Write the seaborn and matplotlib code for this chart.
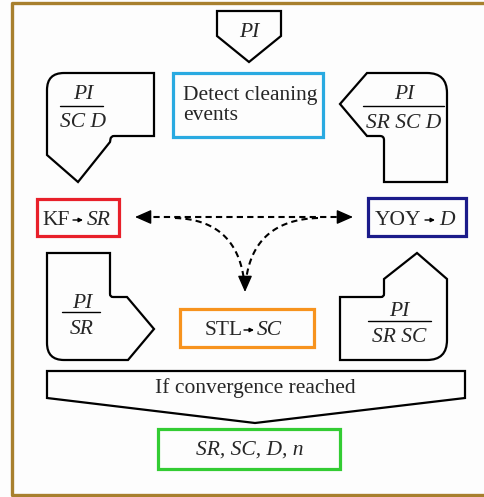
import numpy as np
import matplotlib
matplotlib.use("Agg")
import matplotlib.pyplot as plt
import seaborn as sns
from matplotlib.path import Path
from matplotlib.patches import PathPatch, Rectangle

sns.set_theme(style="white")
plt.rcParams['font.family'] = ['Liberation Serif', 'DejaVu Serif']

# node texts
box_names = ["detect", "kf", "yoy", "stl", "result"]
box_colors = ["#29AAE1", "#E8202A", "#1B1B8A", "#F7931E", "#33CC33"]
frac_tops = ["PI", "PI", "PI", "PI"]
frac_bottoms = ["SC D", "SR SC D", "SR", "SR SC"]
top_label = "PI"
detect_lines = ["Detect cleaning", "events"]
method_names = ["KF", "YOY", "STL"]
method_outputs = ["SR", "D", "SC"]
converge_label = "If convergence reached"
result_label = "SR, SC, D, n"

# layout in pixel units (x0, y0, x1, y1)
box_rects = {
    "detect": (173, 73, 323, 137),
    "kf": (37, 199, 119, 236),
    "yoy": (368, 198, 466, 236),
    "stl": (180, 309, 314, 347),
    "result": (158, 429, 340, 469),
}

# outlines: list of (x, y, corner radius)
shape_left_top = [(154, 73, 0), (154, 136, 0), (111, 136, 3), (110, 142, 0),
                  (78, 182, 0), (47, 155, 0), (47, 73, 17)]
shape_right_top = [(367, 73, 0), (447, 73, 20), (447, 182, 0), (384, 182, 0),
                   (384, 136, 4), (367, 136, 0), (340, 104, 0)]
shape_left_bottom = [(47, 253, 0), (110, 253, 0), (110, 297, 3), (127, 297, 0),
                     (154, 329, 0), (128, 360, 0), (47, 360, 17)]
shape_right_bottom = [(340, 297, 0), (384, 297, 3), (384, 279, 0), (417, 253, 0),
                      (447, 279, 0), (447, 360, 20), (340, 360, 0)]
shape_top = [(217, 11, 0), (281, 11, 0), (281, 36, 0), (249, 62, 0), (217, 36, 0)]
shape_converge = [(47, 371, 0), (465, 371, 0), (465, 398, 0), (255, 423, 0), (47, 398, 0)]

# (center x, top baseline, line y, bottom baseline, line x0, line x1)
frac_pos = [(83, 99, 106, 127, 60, 103), (404, 99, 106, 128, 363, 444),
            (82, 308, 312, 334, 62, 100), (399, 316, 321, 342, 368, 431)]

FS = 15.5


def outline(pts):
    verts, codes = [], []
    n = len(pts)
    for i, (x, y, r) in enumerate(pts):
        p = np.array([x, y], float)
        if r == 0:
            verts.append(p)
            codes.append(Path.MOVETO if i == 0 else Path.LINETO)
        else:
            prv = np.array(pts[i - 1][:2], float)
            nxt = np.array(pts[(i + 1) % n][:2], float)
            a = p + (prv - p) / np.linalg.norm(prv - p) * r
            b = p + (nxt - p) / np.linalg.norm(nxt - p) * r
            verts += [a, p, b]
            codes += [Path.MOVETO if i == 0 else Path.LINETO, Path.CURVE3, Path.CURVE3]
    verts.append(verts[0])
    codes.append(Path.CLOSEPOLY)
    return Path(verts, codes)


fig = plt.figure(figsize=(4.85, 4.97), dpi=100)
fig.patch.set_facecolor("#FDFDFD")
ax = fig.add_axes([0, 0, 1, 1])
ax.set_xlim(0, 485)
ax.set_ylim(497, 0)
ax.axis("off")

# frame
frame = "#A8802E"
ax.plot([485, 12, 12, 485], [3, 3, 495, 495], color=frame, lw=2.4, solid_capstyle="butt")

# black outlined shapes
for shp in [shape_left_top, shape_right_top, shape_left_bottom, shape_right_bottom,
            shape_top, shape_converge]:
    ax.add_patch(PathPatch(outline(shp), fc="none", ec="black", lw=1.6, joinstyle="miter"))

# coloured boxes
for name, col in zip(box_names, box_colors):
    x0, y0, x1, y1 = box_rects[name]
    ax.add_patch(Rectangle((x0, y0), x1 - x0, y1 - y0, fill=False, ec=col, lw=2.3))

# fractions
for (cx, ytop, yline, ybot, lx0, lx1), t, b in zip(frac_pos, frac_tops, frac_bottoms):
    ax.text(cx, ytop, t, fontsize=FS, style="italic", ha="center", va="baseline")
    ax.plot([lx0, lx1], [yline, yline], color="black", lw=1.0)
    ax.text(cx, ybot, b, fontsize=FS, style="italic", ha="center", va="baseline")

ax.text(249, 37, top_label, fontsize=FS, style="italic", ha="center", va="baseline")
ax.text(183, 100, detect_lines[0], fontsize=FS, ha="left", va="baseline")
ax.text(183, 120, detect_lines[1], fontsize=FS, ha="left", va="baseline")

# method -> output labels: (text right, arrow centre, output left, baseline)
method_pos = [(70, 78, 87, 225), (421, 430, 439, 225), (243, 249, 257, 335)]
for (xr, xa, xl, y), m, o in zip(method_pos, method_names, method_outputs):
    ax.text(xr, y, m, fontsize=FS, ha="right", va="baseline")
    ax.annotate("", xy=(xa + 5, y - 5), xytext=(xa - 5, y - 5),
                arrowprops=dict(arrowstyle="-|>", color="black", lw=1.0,
                                mutation_scale=6, shrinkA=0, shrinkB=0))
    ax.text(xl, y, o, fontsize=FS, style="italic", ha="left", va="baseline")

ax.text(255, 393, converge_label, fontsize=FS, ha="center", va="baseline")
ax.text(250, 455, result_label, fontsize=FS, style="italic", ha="center", va="baseline")

# dashed arrows
dash = dict(color="black", lw=1.5, dashes=(3, 2))
ax.plot([143, 345], [217, 217], **dash)
t = np.linspace(0, 1, 60)[:, None]
for p0, p1, p2 in [((175, 218), (236, 220), (244, 280)),
                   ((318, 218), (254, 220), (246, 280))]:
    p0, p1, p2 = map(np.array, (p0, p1, p2))
    c = (1 - t) ** 2 * p0 + 2 * (1 - t) * t * p1 + t ** 2 * p2
    ax.plot(c[:, 0], c[:, 1], **dash)

head = dict(arrowstyle="-|>,head_length=0.5,head_width=0.22", color="black", lw=1.0,
            mutation_scale=20, shrinkA=0, shrinkB=0)
ax.annotate("", xy=(135, 217), xytext=(150, 217), arrowprops=head)
ax.annotate("", xy=(353, 217), xytext=(338, 217), arrowprops=head)
ax.annotate("", xy=(245, 292), xytext=(245, 277), arrowprops=head)

fig.savefig("out.png", dpi=100, facecolor=fig.get_facecolor())
